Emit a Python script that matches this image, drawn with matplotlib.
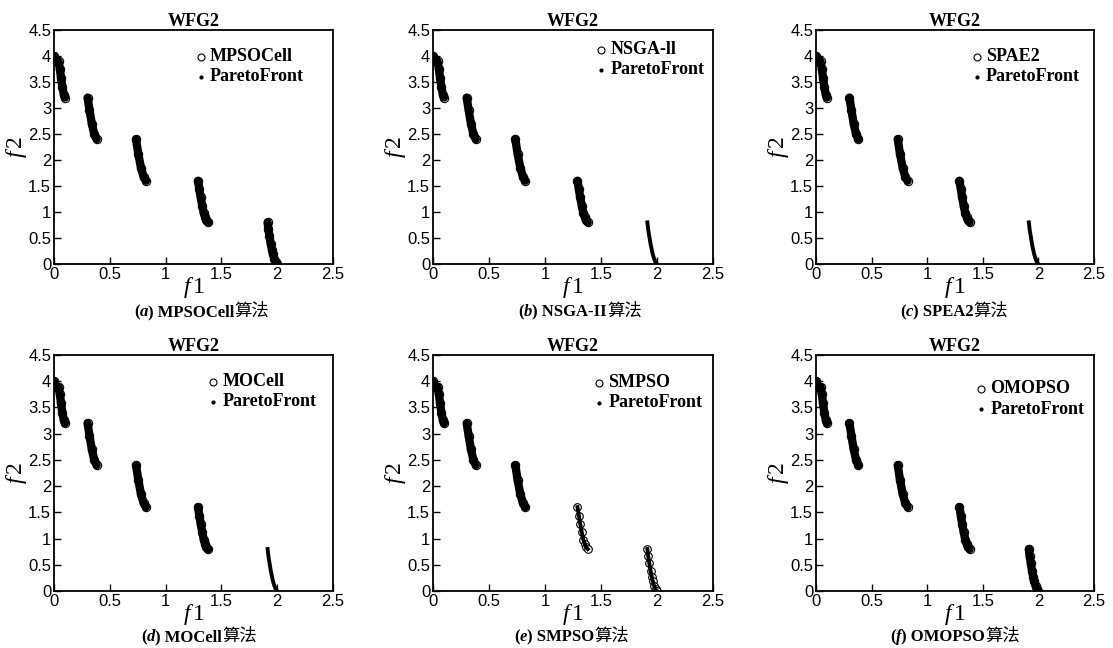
import matplotlib
matplotlib.use('Agg')
import matplotlib.pyplot as plt

plt.rcParams['mathtext.fontset'] = 'custom'
plt.rcParams['mathtext.it'] = 'Liberation Serif:italic'
plt.rcParams['mathtext.rm'] = 'Liberation Serif'

# WFG2 Pareto front, one list per disconnected piece
SEG_F1 = [
    [0.000, 0.002, 0.004],
    [0.041, 0.052, 0.063, 0.075, 0.088, 0.098],
    [0.301, 0.318, 0.339, 0.360, 0.382],
    [0.735, 0.755, 0.779, 0.804, 0.824],
    [1.290, 1.303, 1.314, 1.329, 1.342, 1.356, 1.366, 1.382],
    [1.914, 1.921, 1.931, 1.943, 1.953, 1.962, 1.975, 1.987, 2.000],
]
SEG_F2 = [
    [4.000, 3.950, 3.895],
    [3.895, 3.756, 3.581, 3.402, 3.258, 3.200],
    [3.200, 2.963, 2.700, 2.504, 2.400],
    [2.400, 2.125, 1.853, 1.670, 1.600],
    [1.600, 1.433, 1.284, 1.117, 0.980, 0.900, 0.839, 0.800],
    [0.800, 0.670, 0.535, 0.380, 0.276, 0.189, 0.096, 0.032, 0.000],
]

PANEL_LETTERS = ['a', 'b', 'c', 'd', 'e', 'f']
ALGO_NAMES = ['MPSOCell', 'NSGA-II', 'SPEA2', 'MOCell', 'SMPSO', 'OMOPSO']
LEGEND_NAMES = ['MPSOCell', 'NSGA-ll', 'SPAE2', 'MOCell', 'SMPSO', 'OMOPSO']
# how each algorithm covers each front piece: 2 = dense, 1 = sparse, 0 = none
COVERAGE = [
    [2, 2, 2, 2, 2, 2],
    [2, 2, 2, 2, 2, 0],
    [2, 2, 2, 2, 2, 0],
    [2, 2, 2, 2, 2, 0],
    [2, 2, 2, 2, 1, 1],
    [2, 2, 2, 2, 2, 2],
]

XTICKS = [0, 0.5, 1, 1.5, 2, 2.5]
XTICKLABELS = ['0', '0.5', '1', '1.5', '2', '2.5']
YTICKS = [0, 0.5, 1, 1.5, 2, 2.5, 3, 3.5, 4, 4.5]
YTICKLABELS = ['0', '0.5', '1', '1.5', '2', '2.5', '3', '3.5', '4', '4.5']

W, H = 1113, 648
# axes boxes in pixels: left, top, right, bottom
AX_BOX = [
    (54, 30, 333, 264), (433, 30, 713, 264), (816, 30, 1094, 264),
    (54, 355, 333, 591), (433, 355, 713, 591), (816, 355, 1094, 591),
]
LEG_X = [0.526, 0.600, 0.578, 0.570, 0.593, 0.594]
LEG_Y = [0.885, 0.915, 0.885, 0.887, 0.883, 0.856]
CAP_CX = [202, 580, 954, 199, 572, 955]
CAP_BASE = [316, 316, 316, 641, 641, 641]

SERIF = 'Liberation Serif'
SANS = 'Liberation Sans'
CJK = ['Liberation Serif', 'Noto Sans CJK SC']


def add_caption(fig, cx, base, pieces):
    texts = [fig.text(0, 0, s, ha='left', va='baseline', **kw) for s, kw in pieces]
    r = fig.canvas.get_renderer()
    widths = [t.get_window_extent(r).width for t in texts]
    x = cx - sum(widths) / 2
    for t, w in zip(texts, widths):
        t.set_position((x / W, 1 - base / H))
        x += w


fig = plt.figure(figsize=(W / 100, H / 100), dpi=100)

for i in range(6):
    l, t, r, b = AX_BOX[i]
    ax = fig.add_axes([l / W, 1 - b / H, (r - l) / W, (b - t) / H])

    for k in range(len(SEG_F1)):
        f1, f2 = SEG_F1[k], SEG_F2[k]
        cov = COVERAGE[i][k]
        if cov == 2:
            ax.plot(f1, f2, '-', color='k', lw=6, solid_capstyle='round', zorder=2)
            ax.plot(f1, f2, 'o', mfc='none', mec='k', ms=6, mew=0.8, zorder=2)
        elif cov == 1:
            ax.plot(f1, f2, 'o', mfc='white', mec='k', ms=5.5, mew=0.8, zorder=2)
        ax.plot(f1, f2, '-', color='k', lw=2.8, zorder=3)

    ax.set_xlim(0, 2.5)
    ax.set_ylim(0, 4.5)
    ax.set_xticks(XTICKS)
    ax.set_xticklabels(XTICKLABELS, fontfamily=SANS, fontsize=12)
    ax.set_yticks(YTICKS)
    ax.set_yticklabels(YTICKLABELS, fontfamily=SANS, fontsize=12)
    ax.tick_params(direction='in', length=5, width=1, pad=2, top=False, right=False)
    for sp in ax.spines.values():
        sp.set_linewidth(1.3)

    ax.set_title('WFG2', fontfamily=SERIF, fontweight='bold', fontsize=13, pad=2)
    ax.set_xlabel(r'$f\,$1', fontfamily=SERIF, fontsize=17, labelpad=-5)
    ax.set_ylabel(r'$f\,$2', fontfamily=SERIF, fontsize=17, labelpad=-1)

    # legend, drawn by hand
    lx, ly = LEG_X[i], LEG_Y[i]
    gap = 0.085
    ax.plot([lx], [ly], 'o', mfc='white', mec='k', ms=5, mew=0.8,
            transform=ax.transAxes, clip_on=False)
    ax.plot([lx], [ly - gap], 'o', color='k', ms=2,
            transform=ax.transAxes, clip_on=False)
    ax.text(lx + 0.033, ly, LEGEND_NAMES[i], transform=ax.transAxes, va='center',
            fontfamily=SERIF, fontweight='bold', fontsize=13)
    ax.text(lx + 0.033, ly - gap, 'ParetoFront', transform=ax.transAxes, va='center',
            fontfamily=SERIF, fontweight='bold', fontsize=13)

    bold = dict(fontfamily=SERIF, fontweight='bold', fontsize=12)
    add_caption(fig, CAP_CX[i], CAP_BASE[i], [
        ('(', bold),
        (PANEL_LETTERS[i], dict(fontfamily=SERIF, fontweight='bold', fontstyle='italic', fontsize=12)),
        (') ' + ALGO_NAMES[i], bold),
        ('算法', dict(fontfamily=CJK, fontsize=12.5)),
    ])

fig.savefig('out.png', dpi=100)
